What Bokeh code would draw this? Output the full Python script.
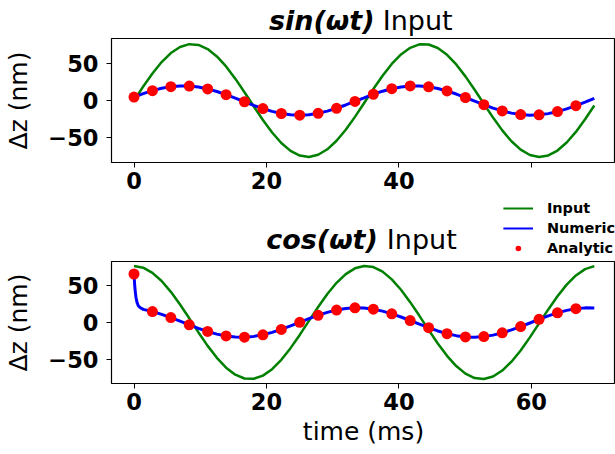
from bokeh.plotting import figure
from bokeh.models import Range1d, FixedTicker, Legend, LegendItem, Label
from bokeh.layouts import column
from bokeh.embed import file_html
from bokeh.resources import INLINE

FONT = "DejaVu Sans"

# ---------------- data ----------------
t_num = [0, 1.39, 2.78, 4.17, 5.56, 6.95, 8.34, 9.73, 11.12, 12.51, 13.9, 15.29, 16.68,
         18.07, 19.46, 20.85, 22.24, 23.63, 25.02, 26.41, 27.8, 29.19, 30.58, 31.97, 33.36,
         34.75, 36.14, 37.53, 38.92, 40.31, 41.7, 43.09, 44.48, 45.87, 47.26, 48.65, 50.04,
         51.43, 52.82, 54.21, 55.6, 56.99, 58.38, 59.77, 61.16, 62.55, 63.94, 65.33, 66.72,
         68.11, 69.5]

sin_input = [0, 19.0, 36.9, 52.4, 64.7, 73.0, 76.8, 75.8, 70.1, 60.1, 46.4, 29.8, 11.3,
             -7.9, -26.5, -43.6, -57.9, -68.6, -75.1, -77.0, -74.0, -66.5, -54.9, -39.8,
             -22.3, -3.4, 15.6, 33.8, 49.8, 62.8, 71.8, 76.5, 76.3, 71.5, 62.2, 49.1, 32.9,
             14.7, -4.4, -23.3, -40.7, -55.6, -67.0, -74.3, -77.0, -74.9, -68.2, -57.2,
             -42.8, -25.6, -6.9]

sin_numeric = [4.6, 9.3, 13.4, 16.6, 18.9, 19.9, 19.7, 18.3, 15.8, 12.3, 8.0, 3.3, -1.7,
               -6.6, -11.0, -14.8, -17.7, -19.4, -20.0, -19.3, -17.4, -14.5, -10.6, -6.1,
               -1.2, 3.7, 8.5, 12.7, 16.1, 18.5, 19.8, 19.9, 18.7, 16.3, 13.0, 8.8, 4.1,
               -0.8, -5.7, -10.3, -14.2, -17.2, -19.2, -20.0, -19.5, -17.9, -15.1, -11.4,
               -7.0, -2.1, 2.9]

t_dots = [0, 2.78, 5.56, 8.34, 11.12, 13.9, 16.68, 19.46, 22.24, 25.02, 27.8, 30.58,
          33.36, 36.14, 38.92, 41.7, 44.48, 47.26, 50.04, 52.82, 55.6, 58.38, 61.16,
          63.94, 66.72]

sin_analytic = [4.6, 13.4, 18.9, 19.7, 15.8, 8.0, -1.7, -11.0, -17.7, -20.0, -17.4, -10.6,
                -1.2, 8.5, 16.1, 19.8, 18.7, 13.0, 4.1, -5.7, -14.2, -19.2, -19.5, -15.1,
                -7.0]

cos_input = [77.0, 74.6, 67.6, 56.4, 41.7, 24.4, 5.7, -13.5, -31.8, -48.1, -61.5, -71.0,
             -76.2, -76.6, -72.3, -63.5, -50.8, -34.9, -16.9, 2.2, 21.1, 38.8, 54.0, 65.9,
             73.7, 76.9, 75.4, 69.2, 58.7, 44.6, 27.7, 9.1, -10.0, -28.6, -45.4, -59.3,
             -69.6, -75.6, -76.9, -73.4, -65.4, -53.3, -38.0, -20.2, -1.2, 17.8, 35.8,
             51.5, 64.0, 72.6, 76.7]

t_num_cos = [0, 0.1, 0.2, 0.3, 0.45, 0.65, 0.9, 1.39, 2.78, 4.17, 5.56, 6.95, 8.34, 9.73,
             11.12, 12.51, 13.9, 15.29, 16.68, 18.07, 19.46, 20.85, 22.24, 23.63, 25.02,
             26.41, 27.8, 29.19, 30.58, 31.97, 33.36, 34.75, 36.14, 37.53, 38.92, 40.31,
             41.7, 43.09, 44.48, 45.87, 47.26, 48.65, 50.04, 51.43, 52.82, 54.21, 55.6,
             56.99, 58.38, 59.77, 61.16, 62.55, 63.94, 65.33, 66.72, 68.11, 69.5]

cos_numeric = [66.0, 51.0, 41.0, 34.0, 27.4, 22.8, 20.4, 17.9, 14.9, 11.1, 6.7, 1.8, -3.2,
               -8.0, -12.2, -15.8, -18.3, -19.7, -19.9, -18.9, -16.7, -13.4, -9.4, -4.7,
               0.3, 5.2, 9.8, 13.8, 16.9, 19.0, 20.0, 19.6, 18.1, 15.5, 11.8, 7.5, 2.7,
               -2.3, -7.1, -11.5, -15.2, -17.9, -19.6, -20.0, -19.2, -17.2, -14.1, -10.1,
               -5.6, -0.7, 4.3, 9.0, 13.1, 16.5, 18.8, 19.9, 19.8]

cos_analytic = [66.0, 14.9, 6.7, -3.2, -12.2, -18.3, -19.9, -16.7, -9.4, 0.3, 9.8, 16.9,
                20.0, 18.1, 11.8, 2.7, -7.1, -15.2, -19.6, -19.2, -14.1, -5.6, 4.3, 13.1,
                18.8]

x_ticks = [0, 20, 40, 60]
y_ticks = [-50, 0, 50]
series_labels = ["Input", "Numeric", "Analytic"]
title_top_func, title_bottom_func, title_word = "sin(ωt)", "cos(ωt)", "Input"
y_label = "Δz (nm)"
x_label = "time (ms)"

W = 615


def style(p, xlabel_standoff):
    p.xgrid.visible = False
    p.ygrid.visible = False
    p.outline_line_color = "black"
    p.outline_line_width = 1.2
    p.background_fill_color = "white"
    p.border_fill_color = "white"
    p.xaxis.ticker = FixedTicker(ticks=x_ticks)
    p.yaxis.ticker = FixedTicker(ticks=y_ticks)
    p.yaxis.major_label_overrides = {-50: "−50"}
    for ax in (p.xaxis[0], p.yaxis[0]):
        ax.axis_line_color = None
        ax.major_tick_line_color = "black"
        ax.major_tick_line_width = 1
        ax.major_tick_in = 0
        ax.major_tick_out = 5
        ax.minor_tick_line_color = None
        ax.major_label_text_font = FONT
        ax.major_label_text_font_size = "22.5px"
        ax.major_label_text_font_style = "bold"
        ax.major_label_text_color = "black"
    p.xaxis.major_label_standoff = xlabel_standoff
    p.yaxis.major_label_standoff = 8
    p.yaxis.axis_label = y_label
    p.yaxis.axis_label_text_font = FONT
    p.yaxis.axis_label_text_font_size = "25px"
    p.yaxis.axis_label_text_font_style = "normal"
    p.yaxis.axis_label_text_color = "black"
    p.yaxis.axis_label_standoff = 12


def text_strip(height):
    """Axis-less strip whose frame is the whole canvas (y measured downward)."""
    f = figure(width=W, height=height, title=None, x_range=Range1d(0, W),
               y_range=Range1d(height, 0), x_axis_location=None, y_axis_location=None,
               output_backend="svg", toolbar_location=None,
               min_border_left=0, min_border_right=0, min_border_top=0, min_border_bottom=0)
    f.xgrid.visible = False
    f.ygrid.visible = False
    f.outline_line_color = None
    f.background_fill_color = "white"
    f.border_fill_color = "white"
    return f


def add_title(f, func_text, x_join_right, x_join_left, y_pos):
    f.add_layout(Label(x=x_join_right, y=y_pos, text=func_text, text_font=FONT,
                       text_font_size="27px", text_font_style="bold italic",
                       text_align="right", text_baseline="alphabetic", text_color="black"))
    f.add_layout(Label(x=x_join_left, y=y_pos, text=title_word, text_font=FONT,
                       text_font_size="27px", text_font_style="normal",
                       text_align="left", text_baseline="alphabetic", text_color="black"))


# ---------------- title strip of the upper panel ----------------
s_top = text_strip(38)
add_title(s_top, title_top_func, 321, 331, 20)

# ---------------- top panel: sin input ----------------
p1 = figure(width=W, height=160, title=None,
            x_range=Range1d(-3.4, 72.7), y_range=Range1d(-84.5, 84.5),
            output_backend="svg", toolbar_location=None,
            min_border_left=111, min_border_right=0, min_border_top=0, min_border_bottom=36)
style(p1, 4)
p1.xaxis.major_label_overrides = {60: ""}   # hidden behind the legend in the original
p1.line(t_num, sin_input, line_color="green", line_width=2.5)
p1.line(t_num, sin_numeric, line_color="blue", line_width=3)
p1.scatter(t_dots, sin_analytic, size=11, fill_color="red", line_color=None)

# ---------------- strip between the panels: legend + lower title ----------------
s_mid = text_strip(63)
lg_in = s_mid.line(t_num, cos_input, line_color="green", line_width=2, visible=False)
lg_nu = s_mid.line(t_num_cos, cos_numeric, line_color="blue", line_width=2, visible=False)
lg_an = s_mid.scatter(t_dots, cos_analytic, size=6, fill_color="red", line_color=None,
                      visible=False)
legend = Legend(items=[LegendItem(label=series_labels[0], renderers=[lg_in]),
                       LegendItem(label=series_labels[1], renderers=[lg_nu]),
                       LegendItem(label=series_labels[2], renderers=[lg_an])],
                location="top_right", orientation="vertical", padding=2, spacing=1, margin=0,
                glyph_width=30, glyph_height=14, label_standoff=14, label_height=19,
                label_text_font=FONT, label_text_font_size="14.5px",
                label_text_font_style="bold", label_text_color="black",
                background_fill_color="white", background_fill_alpha=1.0,
                border_line_color=None, inactive_fill_alpha=0.0)
s_mid.add_layout(legend)
add_title(s_mid, title_bottom_func, 325, 336, 41)

# ---------------- bottom panel: cos input ----------------
p2 = figure(width=W, height=193, title=None,
            x_range=Range1d(-3.4, 72.7), y_range=Range1d(-83, 83),
            output_backend="svg", toolbar_location=None,
            min_border_left=111, min_border_right=0, min_border_top=0, min_border_bottom=71)
style(p2, 4)
p2.xaxis.axis_label = x_label
p2.xaxis.axis_label_text_font = FONT
p2.xaxis.axis_label_text_font_size = "25px"
p2.xaxis.axis_label_text_font_style = "normal"
p2.xaxis.axis_label_text_color = "black"
p2.xaxis.axis_label_standoff = 4
p2.line(t_num, cos_input, line_color="green", line_width=2.5)
p2.line(t_num_cos, cos_numeric, line_color="blue", line_width=3)
p2.scatter(t_dots, cos_analytic, size=11, fill_color="red", line_color=None)

layout = column(s_top, p1, s_mid, p2)
open("out.html", "w").write(file_html(layout, INLINE))
